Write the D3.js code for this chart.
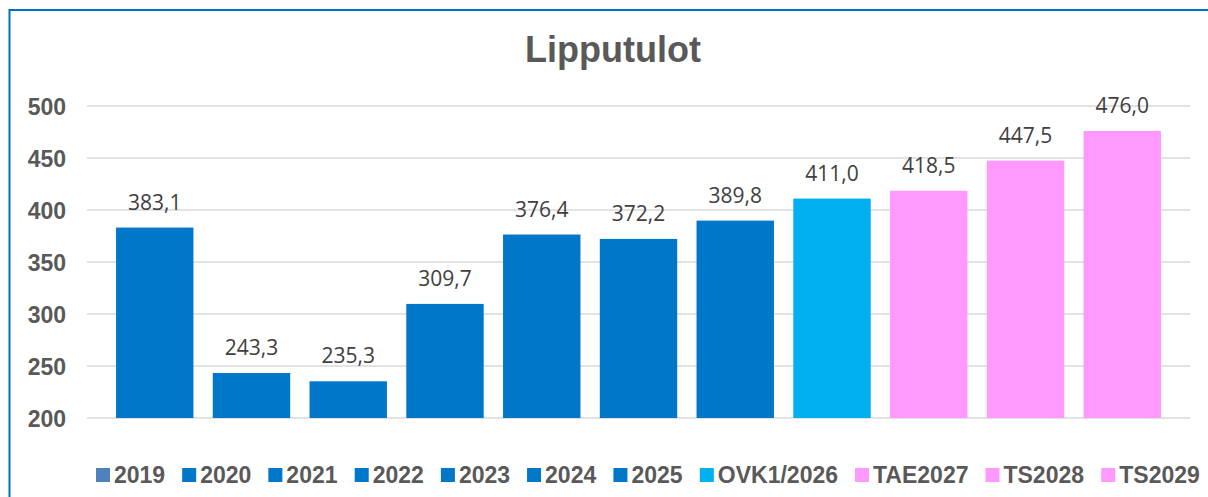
<!DOCTYPE html>
<html>
<head>
<meta charset="utf-8">
<script src="https://cdn.jsdelivr.net/npm/d3@7"></script>
<style>
  body { margin: 0; background: #fff; }
  svg { display: block; }
</style>
</head>
<body>
<div id="chart"></div>
<script>
const categories = ["2019", "2020", "2021", "2022", "2023", "2024", "2025", "OVK1/2026", "TAE2027", "TS2028", "TS2029"];
const values = [383.1, 243.3, 235.3, 309.7, 376.4, 372.2, 389.8, 411.0, 418.5, 447.5, 476.0];
const barColors = ["#0077c8", "#0077c8", "#0077c8", "#0077c8", "#0077c8", "#0077c8", "#0077c8", "#00b0f0", "#ff99ff", "#ff99ff", "#ff99ff"];
const legendColors = ["#4f81bd", "#0077c8", "#0077c8", "#0077c8", "#0077c8", "#0077c8", "#0077c8", "#00b0f0", "#ff99ff", "#ff99ff", "#ff99ff"];
const yTicks = [200, 250, 300, 350, 400, 450, 500];

const width = 1208, height = 497;
const fmt = (v) => d3.format(".1f")(v).replace(".", ",");

const svg = d3.select("#chart").append("svg")
  .attr("width", width)
  .attr("height", height);

// frame
svg.append("rect")
  .attr("x", 9.5).attr("y", 10)
  .attr("width", 1400).attr("height", 700)
  .attr("fill", "none")
  .attr("stroke", "#0070c0")
  .attr("stroke-width", 2);

svg.append("text")
  .attr("x", 613).attr("y", 62)
  .attr("text-anchor", "middle")
  .style("font-family", "'Liberation Sans', Arial, sans-serif")
  .style("font-weight", "bold")
  .style("font-size", "36px")
  .style("fill", "#595959")
  .text("Lipputulot");

const y = d3.scaleLinear().domain([200, 500]).range([418, 106]);
const x = d3.scaleBand().domain(categories).range([87, 1190]).paddingInner(0.2).paddingOuter(0.3);

// grid
svg.append("g")
  .selectAll("line")
  .data(yTicks)
  .join("line")
  .attr("x1", 87).attr("x2", 1190)
  .attr("y1", (d) => y(d)).attr("y2", (d) => y(d))
  .attr("stroke", "#d9d9d9")
  .attr("stroke-width", 1.5);

// y axis labels
const yAxis = svg.append("g")
  .attr("transform", "translate(66,0)")
  .call(d3.axisLeft(y).tickValues(yTicks).tickSize(0).tickPadding(0));
yAxis.select(".domain").remove();
yAxis.selectAll("text")
  .attr("dy", "0.36em")
  .style("font-family", "'Liberation Sans', Arial, sans-serif")
  .style("font-weight", "bold")
  .style("font-size", "23px")
  .style("fill", "#595959");

// bars
svg.append("g")
  .selectAll("rect")
  .data(values)
  .join("rect")
  .attr("x", (d, i) => x(categories[i]))
  .attr("y", (d) => y(d))
  .attr("width", x.bandwidth())
  .attr("height", (d) => y(200) - y(d))
  .attr("fill", (d, i) => barColors[i]);

// value labels
svg.append("g")
  .selectAll("text")
  .data(values)
  .join("text")
  .attr("x", (d, i) => x(categories[i]) + x.bandwidth() / 2)
  .attr("y", (d) => y(d) - 18)
  .attr("text-anchor", "middle")
  .style("font-family", "'Open Sans', 'Noto Sans', sans-serif")
  .style("font-size", "21px")
  .style("fill", "#404040")
  .text((d) => fmt(d));

// legend
const legend = svg.append("g").attr("transform", "translate(0,475)");
const items = legend.selectAll("g")
  .data(categories)
  .join("g");
items.append("rect")
  .attr("y", -7)
  .attr("width", 14).attr("height", 14)
  .attr("fill", (d, i) => legendColors[i]);
items.append("text")
  .attr("x", 18)
  .attr("y", 8)
  .style("font-family", "'Liberation Sans', Arial, sans-serif")
  .style("font-weight", "bold")
  .style("font-size", "23px")
  .style("fill", "#595959")
  .text((d) => d);

let pos = 0;
const offsets = [];
items.each(function () {
  offsets.push(pos);
  pos += this.getBBox().width + 17;
});
const startX = 96;
items.attr("transform", (d, i) => `translate(${startX + offsets[i]},0)`);
</script>
</body>
</html>
